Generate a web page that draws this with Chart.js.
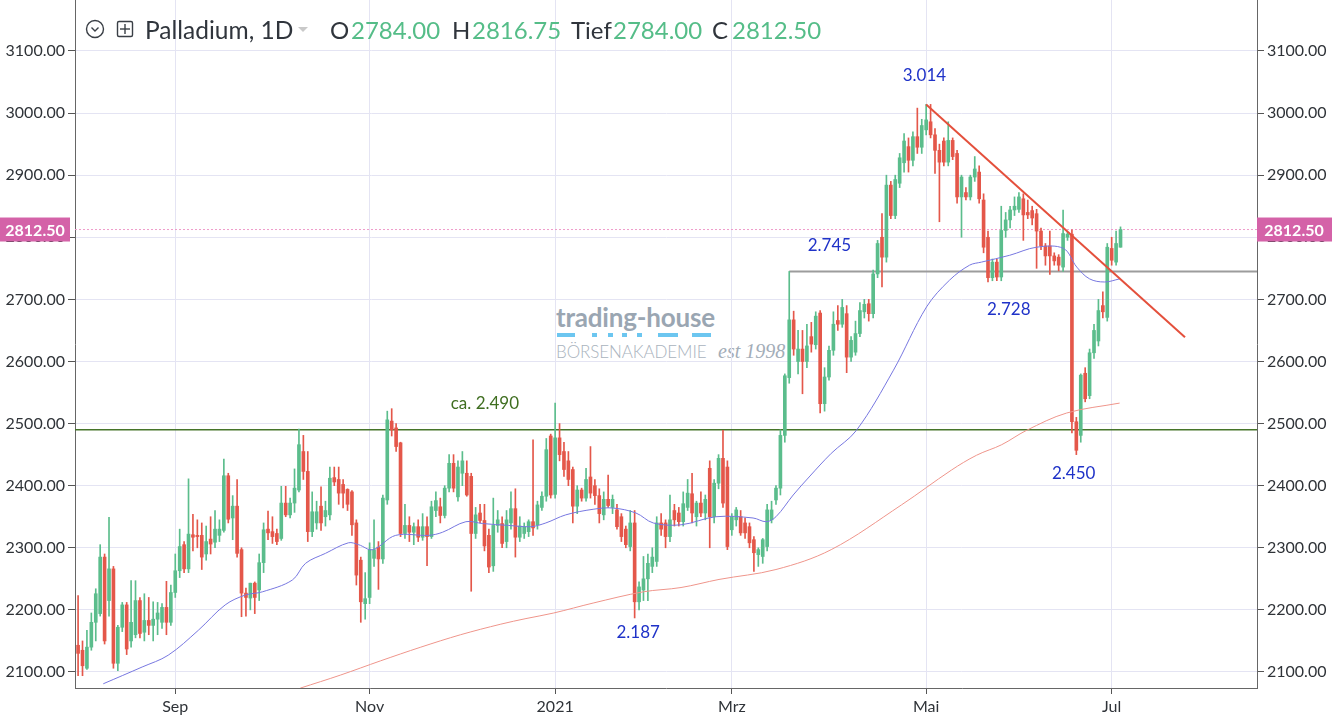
<!DOCTYPE html>
<html>
<head>
<meta charset="utf-8">
<script src="https://cdn.jsdelivr.net/npm/chart.js"></script>
<style>
html,body{margin:0;padding:0;background:#fff;}
#wrap{position:relative;width:1332px;height:721px;overflow:hidden;font-family:Lato,sans-serif;}
#c{position:absolute;left:0;top:0;z-index:2;}
.h{position:absolute;top:15px;line-height:30px;font-size:24px;color:#30353c;white-space:nowrap;z-index:3;}
.g{color:#55bd88;}
.wm{position:absolute;z-index:1;white-space:nowrap;}
</style>
</head>
<body>
<div id="wrap">
  <div class="wm" style="left:556px;top:300px;font-size:26px;font-weight:700;color:#9aa6b2;line-height:34px;letter-spacing:-0.2px;">trading-house</div>
  <svg class="wm" style="left:0;top:0" width="1332" height="721">
    <g stroke="#6cc6f0" stroke-width="4">
      <line x1="557" y1="335" x2="575" y2="335"/><line x1="592" y1="335" x2="597" y2="335"/>
      <line x1="608" y1="335" x2="613" y2="335"/><line x1="622" y1="335" x2="627" y2="335"/>
      <line x1="637" y1="335" x2="642" y2="335"/><line x1="658" y1="335" x2="678" y2="335"/>
      <line x1="692" y1="335" x2="711" y2="335"/>
    </g>
  </svg>
  <div class="wm" style="left:556px;top:340px;font-size:17px;font-weight:300;color:#a9b3bd;line-height:24px;letter-spacing:-0.1px;">BÖRSENAKADEMIE</div>
  <div class="wm" style="left:718px;top:339px;font-family:'Liberation Serif',serif;font-style:italic;font-size:20px;color:#a3adb8;line-height:24px;">est 1998</div>

  <canvas id="c" width="1332" height="721"></canvas>

  <svg style="position:absolute;left:0;top:0;z-index:3" width="320" height="50">
    <circle cx="95" cy="29" r="8.5" fill="none" stroke="#3a3f46" stroke-width="1.4"/>
    <polyline points="91.5,27.5 95,31 98.5,27.5" fill="none" stroke="#3a3f46" stroke-width="1.4"/>
    <rect x="117.5" y="21.5" width="15" height="15" rx="1.5" fill="none" stroke="#3a3f46" stroke-width="1.4"/>
    <line x1="125" y1="24" x2="125" y2="34" stroke="#3a3f46" stroke-width="1.4"/>
    <line x1="120" y1="29" x2="130" y2="29" stroke="#3a3f46" stroke-width="1.4"/>
    <polygon points="298,27 308,27 303,32" fill="#c9c9c9"/>
  </svg>
  <div class="h" style="left:145px;font-size:24.5px;">Palladium, 1D</div>
  <div class="h" style="left:330px;">O</div><div class="h g" style="left:351px;">2784.00</div>
  <div class="h" style="left:452px;">H</div><div class="h g" style="left:472px;">2816.75</div>
  <div class="h" style="left:571px;">Tief</div><div class="h g" style="left:613px;">2784.00</div>
  <div class="h" style="left:712px;">C</div><div class="h g" style="left:732px;">2812.50</div>
</div>
<script>
// ---------- data ----------
const tickIdx = [22, 66, 108, 148, 192, 234];
const tickLabels = ['Sep', 'Nov', '2021', 'Mrz', 'Mai', 'Jul'];
const yTicks = [2100, 2200, 2300, 2400, 2500, 2600, 2700, 2800, 2900, 3000, 3100];

const open = [
2143,2135,2106,2140,2180,2194,2285,2215,2266,2114,2172,2208,2150,2160,2215,2164,2183,2175,2185,2180,2204,2180,
2228,2263,2305,2266,2321,2320,2320,2290,2314,2309,2320,2328,2416,
2348,2367,2297,2227,2219,2243,2232,2276,2330,2326,2323,2315,2372,2353,2372,2393,2455,2423,2326,2340,2367,2350,2353,2413,2410,2402,2394,2390,2340,2280,2210,
2220,2283,2301,
2282,2377,2504,2493,2469,2323,2336,2325,2334,2317,2334,2318,2360,2366,2352,2396,2436,2382,2420,2420,2415,2323,2356,2344,2320,2271,2336,2339,2310,2340,2363,
2317,2323,2326,2342,2337,2365,2383,2480,
2386,
2477,2455,2440,2426,2367,2393,2380,2414,2400,2384,2353,2378,2365,2361,2350,2330,2302,2340,2213,2232,2250,2270,2278,2340,2340,2318,2360,
2356,2342,2365,2387,2350,2372,2356,2428,2350,2404,2444,2430,
2329,2345,2350,2340,2334,2313,2289,2286,2302,2345,2377,2396,2481,2574,2667,2600,2620,2600,2640,2627,2678,2532,
2575,2618,2666,2660,2677,2607,2615,2645,2680,2693,2677,2741,2800,2768,2884,2835,2887,2920,2946,2924,2962,2945,
2973,2986,2965,2940,2955,2921,2956,2935,2865,2872,2865,2897,2905,
2860,2800,2735,2760,2736,2811,2828,2844,2845,2862,2840,2843,2838,2810,2786,2786,2770,2768,2752,2800,2805,2503,2481,2581,2545,2614,2633,2690,2671,
2782,2760,2784
];
const high = [
2223,2150,2167,2195,2234,2305,2290,2349,2270,2175,2212,2212,2247,2247,2220,2226,2220,2213,2212,2210,2246,2240,
2290,2330,2310,2411,2354,2345,2340,2335,2350,2360,2345,2443,2420,
2384,2410,2300,2235,2243,2245,2290,2340,2359,2350,2330,2399,2399,2380,2427,2491,2481,2455,2390,2375,2398,2375,2430,2430,2430,2410,2395,2392,2345,2285,2260,
2308,2345,2310,
2385,2520,2524,2500,2470,2370,2350,2340,2345,2355,2350,2375,2390,2380,2400,2450,2450,2440,2455,2440,2420,2365,2370,2370,2330,2380,2360,2350,2360,2390,2395,
2350,2340,2345,2474,2375,2390,2476,2483,
2533,
2500,2470,2455,2430,2400,2396,2428,2463,2410,2395,2390,2417,2385,2370,2355,2335,2360,2360,2245,2286,2290,2300,2350,2355,2345,2385,2370,
2365,2390,2410,2420,2375,2390,2385,2440,2410,2450,2489,2440,
2355,2365,2360,2348,2340,2318,2300,2315,2370,2375,2400,2490,2580,2745,2681,2650,2650,2660,2663,2680,2682,2590,
2625,2680,2690,2700,2690,2640,2665,2695,2700,2700,2747,2795,2838,2900,2890,2900,2935,2967,2960,2970,3008,2990,
3014,3014,2975,2950,2960,2986,2960,2940,2900,2880,2900,2930,2915,
2870,2810,2765,2765,2850,2840,2850,2865,2872,2870,2860,2850,2845,2815,2790,2810,2775,2772,2844,2808,2812,2510,2580,2590,2620,2660,2700,2712,2790,
2800,2810,2816.75
];
const low = [
2094,2094,2104,2135,2150,2190,2145,2190,2106,2102,2165,2128,2140,2155,2155,2150,2160,2150,2160,2170,2160,2175,
2220,2252,2260,2260,2295,2300,2265,2280,2290,2300,2310,2325,2340,
2313,2285,2189,2190,2200,2194,2215,2260,2313,2307,2305,2312,2350,2348,2357,2390,2410,2310,2318,2330,2328,2335,2345,2400,2370,2364,2360,2320,2240,2180,2185,
2210,2270,2233,
2275,2370,2480,2455,2318,2315,2310,2305,2310,2312,2271,2315,2350,2340,2348,2390,2390,2375,2400,2383,2230,2315,2340,2295,2260,2262,2325,2300,2300,2330,2285,
2310,2315,2318,2320,2330,2360,2375,2380,
2380,
2440,2415,2400,2340,2355,2375,2375,2380,2370,2340,2345,2365,2355,2330,2310,2300,2295,2187,2200,2215,2215,2260,2270,2320,2300,2310,2335,
2335,2335,2360,2340,2335,2350,2345,2300,2340,2395,2365,2297,
2320,2335,2320,2315,2300,2262,2270,2275,2295,2340,2370,2385,2470,2565,2610,2580,2548,2590,2615,2620,2517,2520,
2570,2610,2650,2655,2582,2600,2610,2640,2670,2665,2670,2735,2720,2760,2830,2830,2880,2905,2905,2915,2935,2935,
2965,2960,2903,2825,2915,2915,2925,2855,2800,2860,2860,2890,2855,
2775,2728,2730,2730,2730,2800,2815,2835,2840,2795,2830,2820,2750,2780,2755,2740,2755,2746,2745,2795,2485,2450,2470,2535,2540,2605,2625,2670,2665,
2755,2755,2784
];
const close = [
2130,2110,2140,2180,2226,2285,2150,2266,2114,2172,2208,2137,2180,2215,2162,2183,2175,2185,2195,2204,2180,2228,
2263,2302,2266,2322,2317,2318,2285,2310,2306,2330,2330,2416,2346,
2367,2291,2227,2220,2243,2220,2276,2329,2324,2318,2310,2372,2353,2372,2396,2466,2423,2326,2358,2358,2340,2360,2412,2406,2388,2388,2370,2337,2256,2213,2218,
2297,2297,2282,
2380,2506,2490,2463,2323,2336,2325,2334,2317,2334,2318,2366,2376,2352,2396,2436,2396,2430,2440,2385,2323,2353,2344,2303,2269,2336,2345,2307,2345,2363,2317,
2335,2334,2342,2332,2369,2383,2458,2385,
2477,
2450,2426,2410,2367,2393,2380,2410,2388,2384,2355,2378,2368,2378,2334,2318,2305,2340,2213,2237,2250,2275,2285,2340,2330,2318,2345,2345,
2342,2371,2388,2356,2372,2356,2378,2350,2404,2444,2372,2302,
2350,2361,2324,2324,2308,2292,2297,2313,2361,2361,2396,2481,2577,2667,2620,2620,2600,2625,2628,2673,2532,2575,
2618,2660,2660,2687,2607,2634,2645,2682,2692,2677,2741,2790,2768,2884,2835,2893,2928,2955,2924,2962,2945,2980,
2989,2965,2940,2921,2921,2956,2930,2865,2897,2865,2897,2910,2862,
2784,2735,2760,2736,2811,2828,2844,2850,2865,2836,2836,2831,2810,2786,2770,2770,2762,2755,2806,2805,2503,2457,2578,2540,2614,2650,2682,2680,2784,
2763,2790,2812.5
];
// moving averages: [bar index, value]
const ma50 = [[5.7,2081],[14.5,2108],[20.4,2127],[27.2,2167],[33.3,2208],[37.9,2224],[41.7,2229],[48.5,2248],[51.5,2275],[56,2291],[61.2,2308],[63.5,2305],[66.7,2297],[71.9,2320],[79.4,2320],[82.5,2325],[87.8,2342],[91.6,2339],[97.5,2336],[102.5,2334],[105.9,2340],[110.4,2353],[116.6,2362],[121.1,2364],[126.3,2356],[130.2,2340],[136.5,2337],[144.4,2350],[152.8,2348],[155.8,2342],[158,2350],[161.9,2385],[165.5,2414],[170.5,2452],[176.2,2489],[184.6,2586],[192.1,2688],[197.3,2731],[201.8,2755],[204.5,2760],[210.9,2771],[217,2784],[223.1,2782],[226.1,2752],[229,2733],[232.4,2728],[235.8,2733]];
const ma200 = [[50.3,2074],[59.4,2095],[68.5,2118],[77.6,2140],[86.6,2160],[95.7,2177],[101.4,2186],[107.7,2195],[116.6,2211],[127.9,2229],[136.5,2236],[145.1,2249],[158,2265],[170.5,2297],[186.4,2369],[197.7,2425],[203.4,2449],[209.1,2466],[214.7,2489],[223.8,2517],[235.8,2533]];
const supportLevel = 2490;
const resistLevel = 2745;
const resistStartIdx = 161;
const trendLine = [[192, 3014], [250.6, 2639]];
const lastPrice = 2812.5;
const notes = [
  {x:191.6, y:3060, t:'3.014'},
  {x:170.1, y:2786, t:'2.745'},
  {x:210.7, y:2684, t:'2.728'},
  {x:225.4, y:2419, t:'2.450'},
  {x:126.8, y:2164, t:'2.187'},
  {x:92.1,  y:2532, t:'ca. 2.490', green:true}
];

// ---------- chart ----------
const X_MIN = -0.7, X_MAX = 266.9, Y_MIN = 2074.2, Y_MAX = 3182.1;
const UP = '#5bbd8c', DOWN = '#e4574a';
const idx = open.map((_, i) => i);
const candleColors = idx.map(i => close[i] >= open[i] ? UP : DOWN);
const pts = arr => arr.map(p => ({x: p[0], y: p[1]}));

const annot = {
  id: 'annot',
  afterDraw(chart) {
    const {ctx, chartArea, scales: {x, y}} = chart;
    ctx.save();
    ctx.textAlign = 'center';
    ctx.textBaseline = 'middle';
    ctx.font = '17px Lato';
    notes.forEach(n => {
      ctx.fillStyle = n.green ? '#3f6e20' : '#1f32c8';
      ctx.fillText(n.t, x.getPixelForValue(n.x), y.getPixelForValue(n.y));
    });
    const py = y.getPixelForValue(lastPrice);
    ctx.fillStyle = '#d462a8';
    ctx.fillRect(chartArea.right, py - 12, 1332 - chartArea.right, 24);
    ctx.fillRect(0, py - 12, 70, 24);
    ctx.fillStyle = '#ffffff';
    ctx.font = 'bold 16px Lato';
    ctx.fillText(lastPrice.toFixed(2), chartArea.right + 37, py + 1);
    ctx.fillText(lastPrice.toFixed(2), 35, py + 1);
    ctx.restore();
  }
};

const axisFont = {family: 'Lato', size: 16};
const yScaleBase = (pos) => ({
  type: 'linear', position: pos, min: Y_MIN, max: Y_MAX,
  afterBuildTicks: s => { s.ticks = yTicks.map(v => ({value: v})); },
  afterFit: s => { s.width = 75; s.paddingTop = 0; s.paddingBottom = 0; },
  ticks: {color: '#2f3338', font: axisFont, padding: 3, callback: v => Number(v).toFixed(2)},
  border: {display: true, color: '#666', width: 1},
  grid: {color: '#e4e4f3', tickLength: 7, tickColor: '#555', drawOnChartArea: pos === 'left'}
});

new Chart(document.getElementById('c'), {
  type: 'bar',
  data: {
    datasets: [
      {type: 'line', data: [{x: X_MIN, y: lastPrice}, {x: X_MAX, y: lastPrice}], borderColor: '#ef9ccb', borderWidth: 1, borderDash: [2, 2], pointRadius: 0, order: 7, yAxisID: 'y'},
      {type: 'line', data: [{x: X_MIN, y: supportLevel}, {x: X_MAX, y: supportLevel}], borderColor: '#46742a', borderWidth: 1.5, pointRadius: 0, order: 5, yAxisID: 'y'},
      {type: 'line', data: [{x: resistStartIdx, y: resistLevel}, {x: X_MAX, y: resistLevel}], borderColor: '#9c9c9c', borderWidth: 2, pointRadius: 0, order: 5, yAxisID: 'y'},
      {type: 'bar', data: idx.map(i => ({x: i, y: [low[i], high[i]]})), backgroundColor: candleColors, barThickness: 1, grouped: false, borderWidth: 0, order: 3, yAxisID: 'y'},
      {type: 'bar', data: idx.map(i => ({x: i, y: [open[i], close[i]]})), backgroundColor: candleColors, barThickness: 3, grouped: false, borderWidth: 0, minBarLength: 1, order: 2, yAxisID: 'y'},
      {type: 'line', data: pts(ma50), borderColor: '#7777e0', borderWidth: 1, pointRadius: 0, tension: 0.35, order: 1.5, yAxisID: 'y'},
      {type: 'line', data: pts(ma200), borderColor: '#ef958b', borderWidth: 1, pointRadius: 0, tension: 0.35, order: 1.5, yAxisID: 'y'},
      {type: 'line', data: pts(trendLine), borderColor: '#e4503c', borderWidth: 2, pointRadius: 0, order: 1, yAxisID: 'y'}
    ]
  },
  options: {
    responsive: false, animation: false, devicePixelRatio: 1,
    layout: {padding: 0},
    plugins: {legend: {display: false}, tooltip: {enabled: false}},
    scales: {
      x: {
        type: 'linear', min: X_MIN, max: X_MAX, offset: false,
        afterBuildTicks: s => { s.ticks = tickIdx.map(v => ({value: v})); },
        afterFit: s => { s.height = 33; s.paddingLeft = 0; s.paddingRight = 0; },
        ticks: {autoSkip: false, maxRotation: 0, padding: 3, color: '#2f3338', font: axisFont,
                callback: v => { const k = tickIdx.indexOf(v); return k >= 0 ? tickLabels[k] : ''; }},
        border: {display: true, color: '#666', width: 1},
        grid: {color: '#e4e4f3', offset: false, tickLength: 6, tickColor: '#555'}
      },
      y: yScaleBase('left'),
      y2: yScaleBase('right')
    }
  },
  plugins: [annot]
});
</script>
</body>
</html>
